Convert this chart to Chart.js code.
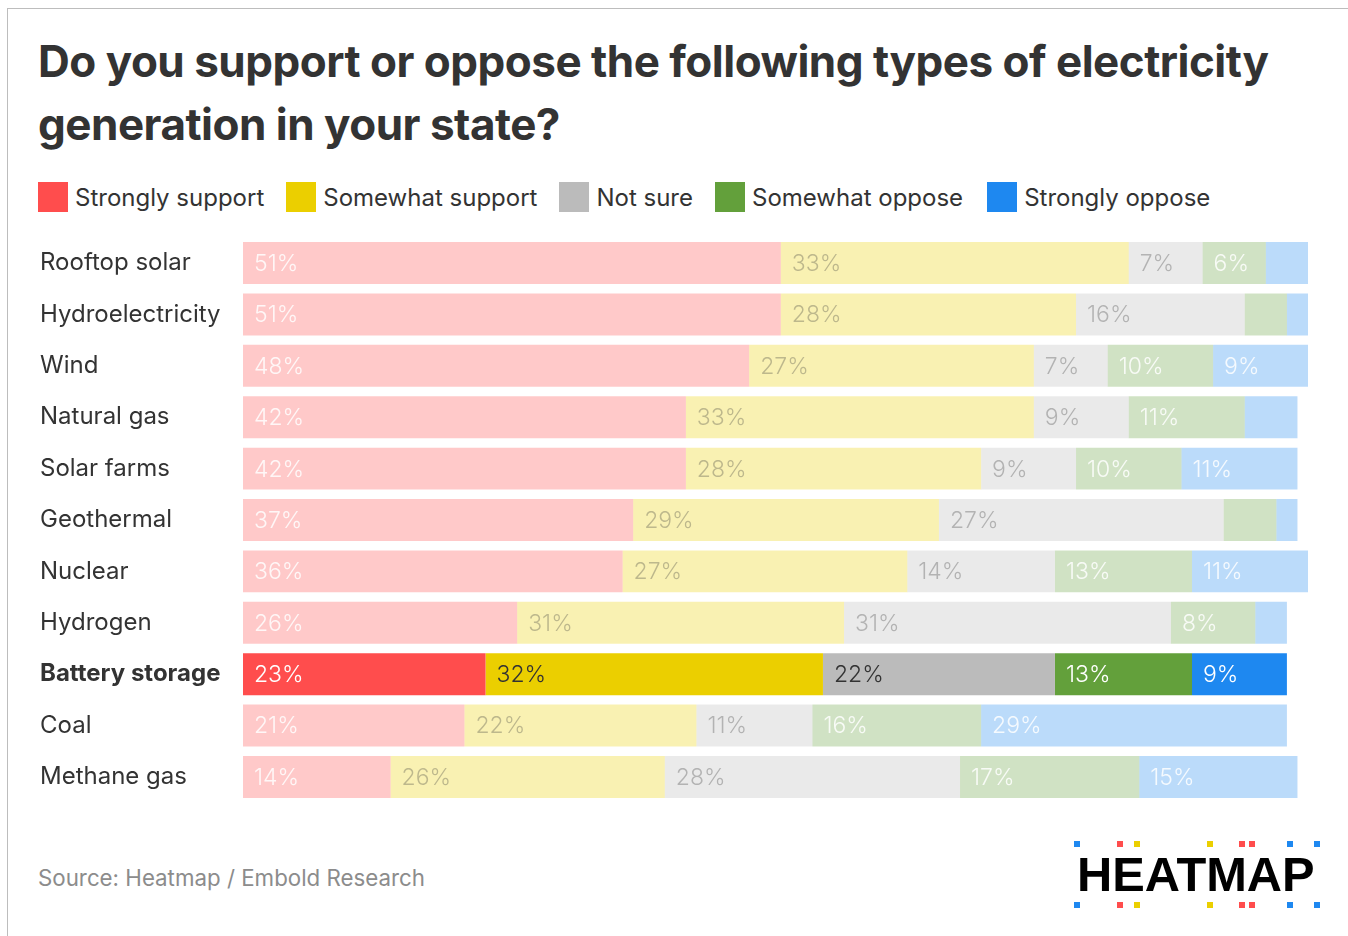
<!DOCTYPE html>
<html>
<head>
<meta charset="utf-8">
<script src="https://cdn.jsdelivr.net/npm/chart.js@4"></script>
<style>
  html, body { margin: 0; padding: 0; background: #fff; }
  body { width: 1348px; height: 936px; position: relative; overflow: hidden; font-family: Inter, "Noto Sans", sans-serif; }
  #frame { position: absolute; left: 7px; top: 8px; width: 1400px; height: 1000px; border-top: 1px solid #bdbdbd; border-left: 1px solid #bdbdbd; }
  #title { position: absolute; left: 38px; top: 30px; margin: 0; font-size: 44px; line-height: 63px; font-weight: 700; color: #333; letter-spacing: -0.5px; }
  #legend { position: absolute; left: 38px; top: 182px; display: flex; align-items: center; font-size: 24px; color: #333; }
  .li { display: flex; align-items: center; margin-right: 22px; }
  .li:nth-child(4) { margin-right: 24px; }
  .sw { width: 30px; height: 30px; margin-right: 7px; }
  #chartWrap { position: absolute; left: 0; top: 223px; width: 1348px; height: 594px; }
  #source { position: absolute; left: 38px; top: 864px; font-size: 22.3px; color: #8c8c8c; }
  #logo { position: absolute; left: 0; top: 0; width: 1348px; height: 936px; pointer-events: none; }
  #logoText { position: absolute; left: 1077px; top: 847px; font-family: "Liberation Sans", Arial, sans-serif; font-weight: 700; font-size: 48.8px; line-height: 54px; color: #000; }
  .dot { position: absolute; width: 6px; height: 6px; }
</style>
</head>
<body>
<div id="frame"></div>
<h1 id="title">Do you support or oppose the following types of electricity<br>generation in your state?</h1>
<div id="legend"></div>
<div id="chartWrap"><canvas id="c" width="1348" height="594"></canvas></div>
<div id="source">Source: Heatmap / Embold Research</div>
<div id="logo"><div id="logoText">HEATMAP</div></div>
<script>
// ---- data ----
const categories = ['Rooftop solar','Hydroelectricity','Wind','Natural gas','Solar farms','Geothermal','Nuclear','Hydrogen','Battery storage','Coal','Methane gas'];
const seriesNames = ['Strongly support','Somewhat support','Not sure','Somewhat oppose','Strongly oppose'];
const stronglySupport = [51,51,48,42,42,37,36,26,23,21,14];
const somewhatSupport = [33,28,27,33,28,29,27,31,32,22,26];
const notSure        = [7,16,7,9,9,27,14,31,22,11,28];
const somewhatOppose = [6,4,10,11,10,5,13,8,13,16,17];
const stronglyOppose = [4,2,9,5,11,2,11,3,9,29,15];
const highlighted = 'Battery storage';

// ---- styles ----
const colors = ['#ff4d4d','#ebcf00','#bbbbbb','#63a03b','#1e88f0'];
const labelColors = ['#ffffff','#333333','#333333','#ffffff','#ffffff'];
const fadeAlpha = 0.3;
function hexToRgba(hex, a) {
  const n = parseInt(hex.slice(1), 16);
  return `rgba(${(n>>16)&255},${(n>>8)&255},${n&255},${a})`;
}
const seriesValues = [stronglySupport, somewhatSupport, notSure, somewhatOppose, stronglyOppose];

// legend
const legend = document.getElementById('legend');
seriesNames.forEach((name, i) => {
  const d = document.createElement('div'); d.className = 'li';
  d.innerHTML = `<span class="sw" style="background:${colors[i]}"></span><span>${name}</span>`;
  legend.appendChild(d);
});

// logo dots
const dotXs = [1074,1117,1134,1207,1239,1249,1287,1314];
const dotCs = ['#1e88f0','#ff4d4d','#ebcf00','#ebcf00','#ff4d4d','#ff4d4d','#1e88f0','#1e88f0'];
const logo = document.getElementById('logo');
[841, 902].forEach(y => dotXs.forEach((x, i) => {
  const d = document.createElement('div'); d.className = 'dot';
  d.style.left = x + 'px'; d.style.top = y + 'px'; d.style.background = dotCs[i];
  logo.appendChild(d);
}));

const datasets = seriesNames.map((name, i) => ({
  label: name,
  data: seriesValues[i],
  backgroundColor: categories.map(c => c === highlighted ? colors[i] : hexToRgba(colors[i], fadeAlpha)),
  borderWidth: 0,
  categoryPercentage: 1,
  barPercentage: 0.817
}));

const labelPlugin = {
  id: 'barLabels',
  afterDatasetsDraw(chart) {
    const ctx = chart.ctx;
    ctx.save();
    ctx.font = '300 23px Inter, "Noto Sans", sans-serif';
    ctx.textBaseline = 'middle';
    ctx.textAlign = 'left';
    chart.data.datasets.forEach((ds, di) => {
      const meta = chart.getDatasetMeta(di);
      meta.data.forEach((el, idx) => {
        const v = ds.data[idx];
        if (v < 6) return;
        const left = Math.min(el.x, el.base);
        const hl = categories[idx] === highlighted;
        ctx.fillStyle = hl ? labelColors[di] : hexToRgba(labelColors[di], labelColors[di] === '#ffffff' ? 0.85 : fadeAlpha);
        ctx.fillText(v + '%', left + 11, el.y + 1);
      });
    });
    ctx.restore();
  }
};

new Chart(document.getElementById('c'), {
  type: 'bar',
  data: { labels: categories, datasets },
  plugins: [labelPlugin],
  options: {
    indexAxis: 'y',
    responsive: false,
    animation: false,
    events: [],
    layout: { padding: { left: 40, right: 40, top: 0, bottom: 0 } },
    plugins: { legend: { display: false }, tooltip: { enabled: false }, title: { display: false } },
    scales: {
      x: {
        stacked: true, min: 0, max: 101,
        display: false,
        grid: { display: false }
      },
      y: {
        stacked: true,
        grid: { display: false },
        border: { display: false },
        afterFit(scale) { scale.width = 203; },
        ticks: {
          crossAlign: 'far',
          padding: 0,
          color: '#333',
          font: (ctx) => ({
            family: 'Inter, "Noto Sans", sans-serif',
            size: 24,
            weight: categories[ctx.index] === highlighted ? '700' : '400'
          })
        }
      }
    }
  }
});
</script>
</body>
</html>
